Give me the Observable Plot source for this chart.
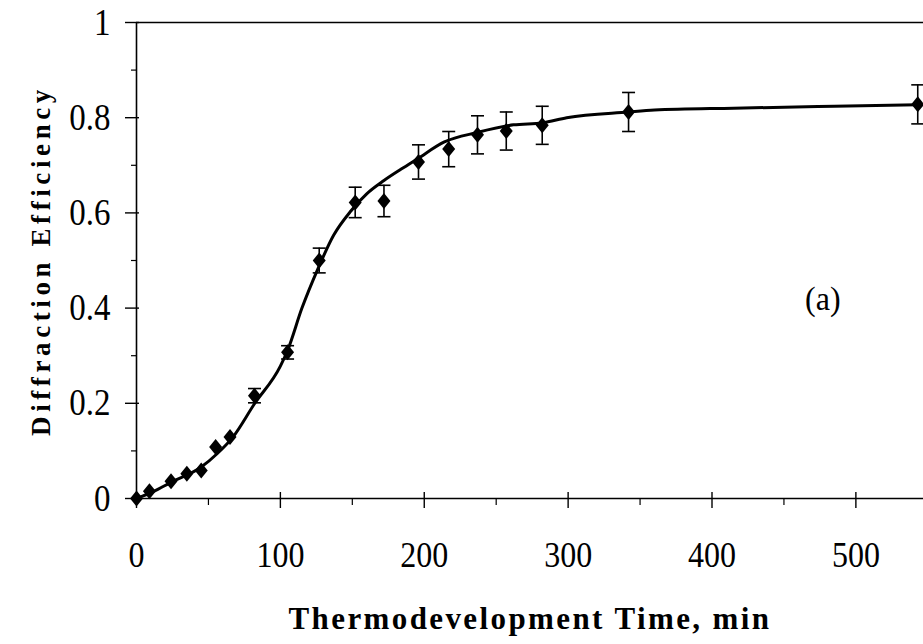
<!DOCTYPE html>
<html>
<head>
<meta charset="utf-8">
<script src="https://cdn.jsdelivr.net/npm/d3@7"></script>
<script src="https://cdn.jsdelivr.net/npm/@observablehq/plot@0.6"></script>
<style>
  html, body { margin: 0; padding: 0; background: #fff; }
  #chart svg { display: block; }
</style>
</head>
<body>
<div id="chart"></div>
<script>
// Measured data points (time in min, diffraction efficiency, error half-width)
const pointTime = [0, 9, 24, 35, 45, 55, 65, 82, 105, 127, 152, 172, 196, 217, 237, 257, 282, 342, 543];
const pointEff  = [0, 0.015, 0.036, 0.052, 0.059, 0.108, 0.129, 0.216, 0.307, 0.50, 0.622, 0.625, 0.707, 0.734, 0.764, 0.772, 0.784, 0.812, 0.828];
const pointErr  = [0, 0, 0, 0, 0, 0, 0, 0.015, 0.014, 0.026, 0.032, 0.033, 0.036, 0.037, 0.040, 0.040, 0.040, 0.041, 0.041];

// Fitted curve
const curveTime = [0, 12, 24, 45, 56, 67, 82, 100, 105, 115, 126, 137, 149, 160, 172, 184, 195, 214, 237, 262, 282, 299, 342, 360, 415, 485, 543];
const curveEff  = [0, 0.015, 0.034, 0.066, 0.094, 0.129, 0.199, 0.278, 0.311, 0.40, 0.482, 0.553, 0.604, 0.640, 0.668, 0.692, 0.713, 0.749, 0.769, 0.785, 0.789, 0.800, 0.812, 0.816, 0.820, 0.824, 0.827];

// Axis ticks
const xMajor = [0, 100, 200, 300, 400, 500];
const xMinor = [50, 150, 250, 350, 450];
const yMajor = [0, 0.2, 0.4, 0.6, 0.8, 1];
const yMinor = [0.1, 0.3, 0.5, 0.7, 0.9];

// Labels
const xLabel = "Thermodevelopment Time, min";
const yLabel = "Diffraction Efficiency";
const panelLabel = ["(a)"];
const panelPos = [{x: 477, y: 0.42}];

const points = pointTime.map((t, i) => ({t, e: pointEff[i], lo: pointEff[i] - pointErr[i], hi: pointEff[i] + pointErr[i], err: pointErr[i]}));
const bars = points.filter(d => d.err > 0);
const curve = curveTime.map((t, i) => ({t, e: curveEff[i]}));

const diamond = {
  draw(ctx, size) {
    const h = 8, w = 6.5;
    ctx.moveTo(0, -h); ctx.lineTo(w, 0); ctx.lineTo(0, h); ctx.lineTo(-w, 0); ctx.closePath();
  }
};
const capSymbol = {
  draw(ctx, size) { ctx.moveTo(-6.5, 0); ctx.lineTo(6.5, 0); }
};

const FONT = "'Liberation Serif', 'Times New Roman', Times, serif";

const chart = Plot.plot({
  width: 923,
  height: 644,
  marginLeft: 136,
  marginRight: 0,
  marginTop: 22,
  marginBottom: 146,
  style: {fontFamily: FONT, background: "#fff", color: "#000", overflow: "visible"},
  x: {domain: [0, 547]},
  y: {domain: [0, 1]},
  marks: [
    // frame lines
    Plot.ruleY([0, 1], {stroke: "#000", strokeWidth: 1.6}),
    Plot.ruleX([0], {stroke: "#000", strokeWidth: 1.6}),
    // ticks
    Plot.axisX(xMajor, {tickSize: 16, dy: -6, fill: "none", stroke: "#000", strokeWidth: 1.4, label: null}),
    Plot.axisX(xMinor, {tickSize: 7, fill: "none", stroke: "#000", strokeWidth: 1.2, label: null}),
    Plot.axisY(yMajor, {tickSize: 14, dx: 3, fill: "none", stroke: "#000", strokeWidth: 1.4, label: null}),
    Plot.axisY(yMinor, {tickSize: 5, fill: "none", stroke: "#000", strokeWidth: 1.2, label: null}),
    // tick labels
    Plot.axisX(xMajor, {tickSize: 0, tickPadding: 43, fontSize: 32, fill: "#000", label: null, tickFormat: d => String(d)}),
    Plot.axisY(yMajor, {tickSize: 0, tickPadding: 26, fontSize: 33, fill: "#000", label: null, tickFormat: d => String(d)}),
    // axis titles
    Plot.text([xLabel], {frameAnchor: "bottom", dy: 121, text: d => d, fontSize: 31, fontWeight: "bold", fontFamily: FONT, fill: "#000", lineAnchor: "middle", textAnchor: "middle"}),
    Plot.text([yLabel], {frameAnchor: "left", dx: -95, text: d => d, rotate: -90, fontSize: 27, fontWeight: "bold", fontFamily: FONT, fill: "#000", lineAnchor: "middle", textAnchor: "middle"}),
    // fitted curve
    Plot.line(curve, {x: "t", y: "e", curve: "monotone-x", stroke: "#000", strokeWidth: 3}),
    // error bars
    Plot.ruleX(bars, {x: "t", y1: "lo", y2: "hi", stroke: "#000", strokeWidth: 1.6}),
    Plot.dot(bars, {x: "t", y: "lo", symbol: capSymbol, stroke: "#000", fill: "none", strokeWidth: 1.6, r: 4}),
    Plot.dot(bars, {x: "t", y: "hi", symbol: capSymbol, stroke: "#000", fill: "none", strokeWidth: 1.6, r: 4}),
    // data points
    Plot.dot(points, {x: "t", y: "e", symbol: diamond, fill: "#000", stroke: "none", r: 5}),
    // panel label
    Plot.text(panelPos, {x: "x", y: "y", text: (d, i) => panelLabel[i], fontSize: 32, fontFamily: FONT, fill: "#000"})
  ]
});

// Typographic touches: taller tick digits, spaced-out axis titles
const svg = d3.select(chart);
svg.selectAll('g[aria-label="x-axis tick label"] text, g[aria-label="y-axis tick label"] text')
  .each(function () {
    const t = d3.select(this);
    t.attr("transform", (t.attr("transform") || "") + " scale(1,1.14)");
  });
svg.selectAll("text").filter(function () { return this.textContent === xLabel; })
  .style("letter-spacing", "2.4px");
svg.selectAll("text").filter(function () { return this.textContent === yLabel; })
  .style("letter-spacing", "4.6px");
svg.selectAll("text").filter(function () { return this.textContent === "(a)"; })
  .each(function () {
    const t = d3.select(this);
    t.attr("transform", (t.attr("transform") || "") + " scale(1,1.08)");
  });

document.getElementById("chart").appendChild(chart);
</script>
</body>
</html>
